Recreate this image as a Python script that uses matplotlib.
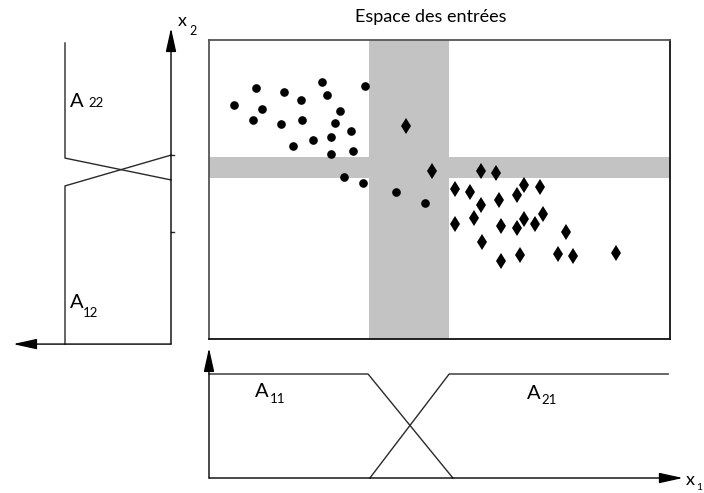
import matplotlib
matplotlib.use("Agg")
import matplotlib.pyplot as plt

# ---- data -------------------------------------------------------------
# class 1 samples (circles)
circle_x1 = [0.55, 1.02, 1.16, 0.96, 1.63, 1.56, 1.99, 2.02, 1.83, 2.45, 2.57, 2.85,
             2.73, 2.25, 2.65, 3.07, 3.12, 2.65, 3.38, 2.92, 3.33, 4.06, 4.69]
circle_x2 = [7.82, 8.41, 7.68, 7.33, 8.27, 7.20, 7.99, 7.31, 6.45, 8.59, 8.16, 7.62,
             7.23, 6.66, 6.76, 6.97, 6.28, 6.18, 8.47, 5.43, 5.21, 4.93, 4.56]
# class 2 samples (diamonds)
diamond_x1 = [4.27, 4.84, 5.89, 6.23, 5.34, 5.67, 6.83, 7.17, 6.68, 5.89, 6.30, 5.34, 5.74,
              6.34, 6.68, 6.83, 7.08, 7.24, 7.74, 5.92, 6.34, 6.75, 7.58, 7.90, 8.82]
diamond_x2 = [7.12, 5.63, 5.63, 5.56, 5.01, 4.93, 5.14, 5.07, 4.83, 4.47, 4.65, 3.85, 4.05,
              3.77, 3.70, 4.01, 3.85, 4.18, 3.58, 3.23, 2.62, 2.81, 2.83, 2.77, 2.89]

# overlap zones (uncertain regions) on each input
band_x1 = [3.47, 5.21]
band_x2 = [5.38, 6.09]

# trapezoidal membership functions: (x, mu) breakpoints
A11 = ([0.0, 3.45, 5.29], [1, 1, 0])
A21 = ([3.49, 5.21, 9.96], [0, 1, 1])
A22 = ([9.9, 6.05, 5.32], [1, 1, 0])     # (x2, mu)
A12 = ([-0.17, 5.12, 6.15], [1, 1, 0])   # (x2, mu)

title = "Espace des entrées"

# ---- figure -----------------------------------------------------------
W, H = 704, 493
fig = plt.figure(figsize=(W / 100, H / 100), dpi=100)
FONT = "Lato"
LC = "#2a2a2a"


def box(l, t, r, b):
    return [l / W, 1 - b / H, (r - l) / W, (b - t) / H]


def fx(x):
    return x / W


def fy(y):
    return 1 - y / H


def arrow(ax, start, tip):
    ax.annotate("", xy=tip, xytext=start, xycoords="data", textcoords="data",
                annotation_clip=False,
                arrowprops=dict(arrowstyle="-|>,head_length=1.45,head_width=0.32",
                                mutation_scale=10, lw=1.0, color="black",
                                shrinkA=0, shrinkB=0))


# main input space
ax = fig.add_axes(box(209, 40, 670, 339))
ax.set_xlim(0, 10)
ax.set_ylim(0, 10)
ax.set_xticks([])
ax.set_yticks([])
for side, sp in ax.spines.items():
    sp.set_linewidth(1.3)
    sp.set_color("#111111" if side in ("right", "bottom") else "#555555")
ax.axvspan(band_x1[0], band_x1[1], color="#c3c3c3", lw=0, zorder=1)
ax.axhspan(band_x2[0], band_x2[1], color="#c3c3c3", lw=0, zorder=1)
ax.plot(circle_x1, circle_x2, "o", color="black", ms=5.2, zorder=3)
ax.plot(diamond_x1, diamond_x2, "d", color="black", ms=8.3, mew=0, zorder=3)
fig.text(fx(431), fy(17), title, ha="center", va="center", family=FONT, fontsize=13)

# membership functions on x1 (below)
axb = fig.add_axes(box(209, 374, 670, 478))
axb.set_xlim(0, 10)
axb.set_ylim(0, 1)
axb.axis("off")
axb.plot(*A11, color=LC, lw=1.0, clip_on=False)
axb.plot(*A21, color=LC, lw=1.0, clip_on=False)
arrow(axb, (0, 0), (10.28, 0))
arrow(axb, (0, 0), (0, 1.25))

# membership functions on x2 (left), mu grows to the left
axl = fig.add_axes(box(65, 40, 171, 339))
axl.set_xlim(1, 0)
axl.set_ylim(0, 10)
axl.axis("off")
axl.plot(A22[1], A22[0], color=LC, lw=1.0, clip_on=False)
axl.plot(A12[1], A12[0], color=LC, lw=1.0, clip_on=False)
arrow(axl, (0, -0.17), (0, 10.4))
arrow(axl, (0, -0.17), (1.49, -0.17))
for t in (6.15, 3.58):
    axl.plot([0, -0.025], [t, t], color=LC, lw=1.0, clip_on=False)

# labels
def sub_label(x, y, main, sub, dx, dy, size=14.5, subsize=9.5):
    fig.text(fx(x), fy(y), main, ha="left", va="baseline", family=FONT, fontsize=size)
    fig.text(fx(x + dx), fy(y + dy), sub, ha="left", va="baseline", family=FONT,
             fontsize=subsize)

sub_label(70, 107, "A", "22", 18, 0)
sub_label(70, 308, "A", "12", 13, 9)
sub_label(255, 397, "A", "11", 15, 6)
sub_label(527, 399, "A", "21", 14, 5)
sub_label(178, 26, "x", "2", 11, 9, size=13, subsize=9)
sub_label(686, 485, "x", "1", 10, 5, size=13, subsize=7.5)

fig.savefig("out.png", dpi=100)
